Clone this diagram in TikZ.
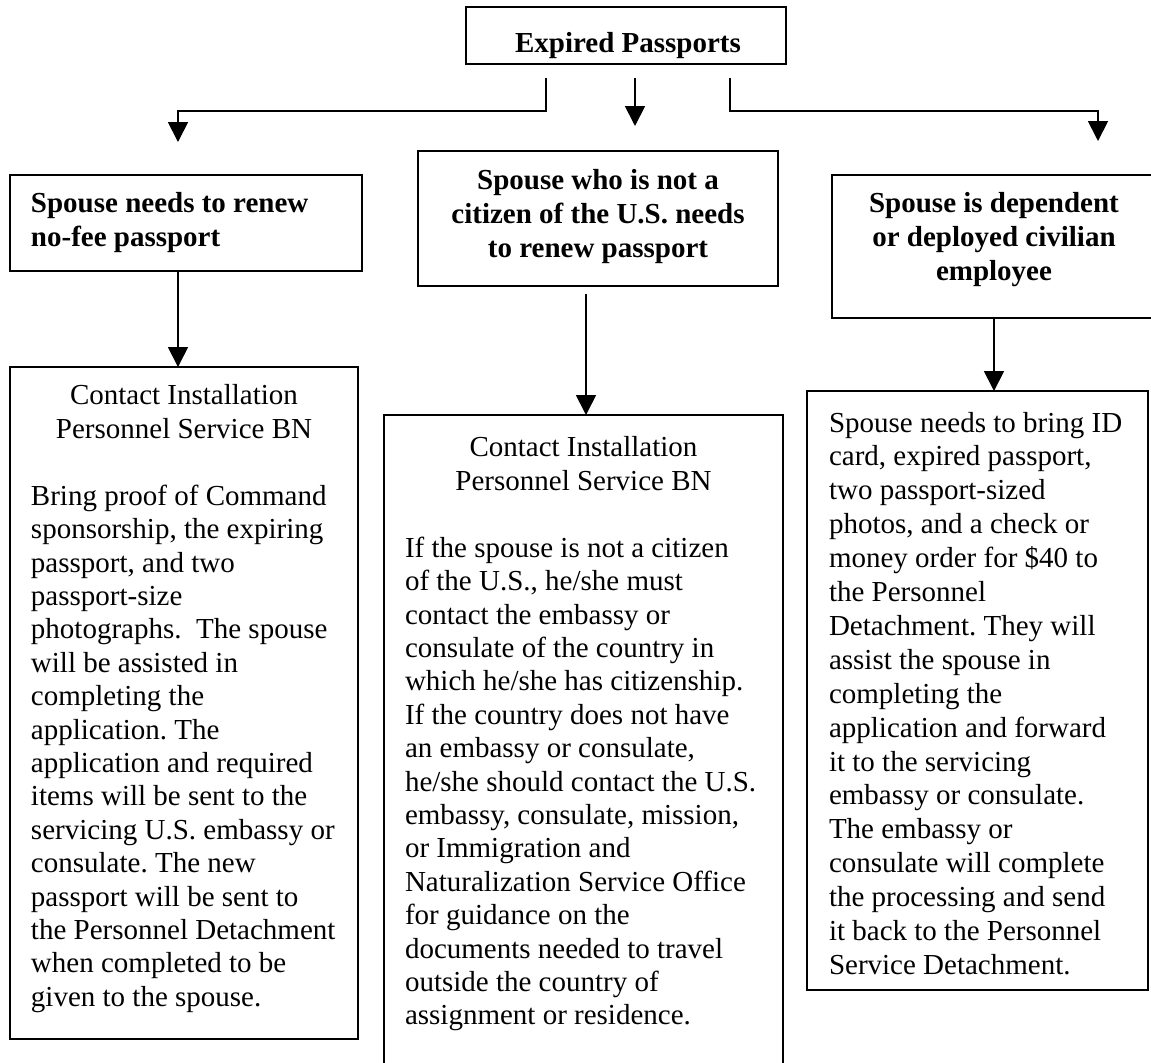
\documentclass[tikz,border=0pt]{standalone}
\usepackage{fontspec}
\setmainfont{Liberation Serif}
\usetikzlibrary{arrows.meta,calc}
\frenchspacing
\newcommand\bodyfont{\fontsize{14.5pt}{16.7pt}\selectfont}
\newcommand\headfont{\fontsize{14.5pt}{17pt}\selectfont\bfseries}
\newcommand\rightfont{\fontsize{14.5pt}{16.95pt}\selectfont}

\begin{document}
\begin{tikzpicture}[x=0.5pt,y=-0.5pt,
  box/.style={draw, line width=1.3pt, inner sep=0, outer sep=0, anchor=north west},
  ltxt/.style={inner sep=0, outer sep=0, anchor=north west, align=left},
  ctxt/.style={inner sep=0, outer sep=0, anchor=north, align=center},
  arr/.style={line width=0.9pt, -{Triangle[length=10pt,width=10pt]}},
]
\useasboundingbox (0,0) rectangle (1151,1062);

% frames
\node[box, minimum width=160pt, minimum height=28.5pt] (ep) at (466,7) {};
\node[box, minimum width=176pt, minimum height=48pt] (lh) at (10,175) {};
\node[box, minimum width=180pt, minimum height=67.5pt] (mh) at (418,151) {};
\node[box, minimum width=162pt, minimum height=71.5pt] (rh) at (832,175) {};
\node[box, minimum width=174pt, minimum height=336pt] (lb) at (10,367) {};
\node[box, minimum width=199.5pt, minimum height=330pt] (mb) at (384,415) {};
\node[box, minimum width=170.5pt, minimum height=299.5pt] (rb) at (807,391) {};

% texts
\node[ctxt, font=\headfont, anchor=base] (ept) at (628,52) {Expired Passports};
\node[ltxt, font=\headfont] (lht) at (31,188.2) {\strut Spouse needs to renew\\no-fee passport};
\node[ctxt, font=\headfont] (mht) at (598,165.2) {\strut Spouse who is not a\\citizen of the U.S. needs\\to renew passport};
\node[ctxt, font=\headfont] (rht) at (994,188.2) {\strut Spouse is dependent\\or deployed civilian\\employee};

\node[ctxt, font=\bodyfont] (lbh) at (184,381.6) {\strut Contact Installation\\Personnel Service BN};
\node[ltxt, font=\bodyfont] (lbt) at (31,481.8) {\strut Bring proof of Command\\
sponsorship, the expiring\\
passport, and two\\
passport-size\\
photographs.\ \ The spouse\\
will be assisted in\\
completing the\\
application. The\\
application and required\\
items will be sent to the\\
servicing U.S. embassy or\\
consulate. The new\\
passport will be sent to\\
the Personnel Detachment\\
when completed to be\\
given to the spouse.};

\node[ctxt, font=\bodyfont] (mbh) at (583.5,433.6) {\strut Contact Installation\\Personnel Service BN};
\node[ltxt, font=\bodyfont] (mbt) at (405,533.8) {\strut If the spouse is not a citizen\\
of the U.S., he/she must\\
contact the embassy or\\
consulate of the country in\\
which he/she has citizenship.\\
If the country does not have\\
an embassy or consulate,\\
he/she should contact the U.S.\\
embassy, consulate, mission,\\
or Immigration and\\
Naturalization Service Office\\
for guidance on the\\
documents needed to travel\\
outside the country of\\
assignment or residence.};

\node[ltxt, font=\rightfont] (rbt) at (829,408.3) {\strut Spouse needs to bring ID\\
card, expired passport,\\
two passport-sized\\
photos, and a check or\\
money order for \$40 to\\
the Personnel\\
Detachment. They will\\
assist the spouse in\\
completing the\\
application and forward\\
it to the servicing\\
embassy or consulate.\\
The embassy or\\
consulate will complete\\
the processing and send\\
it back to the Personnel\\
Service Detachment.};

% connectors
\draw[arr, shorten <=7pt, shorten >=16.5pt] ([xshift=-40pt]ep.south) -- ++(0,47) -| ([xshift=-4pt]lh.north);
\draw[arr, shorten <=7pt, shorten >=12.5pt] ([xshift=4.5pt]ep.south) -- ([xshift=4.5pt]ep.south |- mh.north);
\draw[arr, shorten <=7pt, shorten >=17pt] ([xshift=52pt]ep.south) -- ++(0,47) -| ([xshift=52pt]rh.north);
\draw[arr] ([xshift=-4pt]lh.south) -- ([xshift=-4pt]lh.south |- lb.north);
\draw[arr, shorten <=4pt] ([xshift=-6pt]mh.south) -- ([xshift=-6pt]mh.south |- mb.north);
\draw[arr] (rh.south) -- (rh.south |- rb.north);
\end{tikzpicture}
\end{document}
